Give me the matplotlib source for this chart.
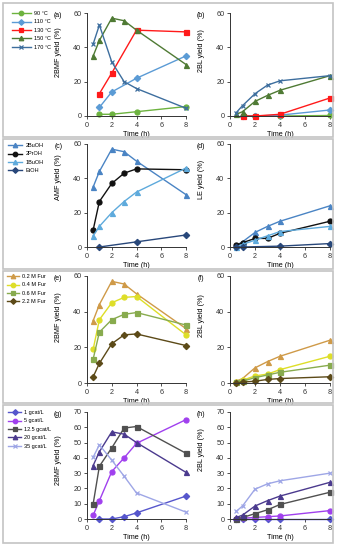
import matplotlib.pyplot as plt
from matplotlib.patches import Rectangle

# ---- data ----
t_a = {'90 °C': [1, 2, 4, 8], '110 °C': [1, 2, 4, 8], '130 °C': [1, 2, 4, 8],
       '150 °C': [0.5, 1, 2, 3, 4, 8], '170 °C': [0.5, 1, 2, 3, 4, 8]}
bmf_temp = {'90 °C': [1, 1, 2.5, 5.5], '110 °C': [5, 14, 22, 35], '130 °C': [13, 25, 50, 49],
            '150 °C': [35, 44, 57, 55.5, 50, 30], '170 °C': [42, 53, 31.5, 20, 16, 4.5]}
bl_temp = {'90 °C': [0, 0, 0, 0.3], '110 °C': [0, 0, 0.5, 3.5], '130 °C': [0, 0, 1, 10.5],
           '150 °C': [1, 2.5, 8.5, 12, 15, 23.5], '170 °C': [2, 6, 13, 18, 20.5, 23.5]}

t_c = {'2BuOH': [0.5, 1, 2, 3, 4, 8], '2PrOH': [0.5, 1, 2, 3, 4, 8],
       '1BuOH': [0.5, 1, 2, 3, 4, 8], 'EtOH': [1, 4, 8]}
amf_alc = {'2BuOH': [35, 44, 57, 55.5, 50, 30.5], '2PrOH': [10, 26.5, 37, 43, 45.5, 45],
           '1BuOH': [6.5, 12, 20, 26.5, 32, 46], 'EtOH': [0, 3, 7]}
t_d = {'2BuOH': [0.5, 1, 2, 3, 4, 8], '2PrOH': [0.5, 1, 2, 3, 4, 8],
       '1BuOH': [0.5, 1, 2, 3, 4, 8], 'EtOH': [0.5, 1, 4, 8]}
le_alc = {'2BuOH': [1, 3, 8.5, 12, 15, 24], '2PrOH': [1, 2.5, 5, 5, 8, 15],
          '1BuOH': [0, 1.5, 4, 6.5, 9, 12], 'EtOH': [0, 0, 0.5, 2]}

t_e = [0.5, 1, 2, 3, 4, 8]
bmf_fur = {'0.2 M Fur': [35, 44, 57, 55.5, 50, 30.5], '0.4 M Fur': [19, 35.5, 45, 48, 48.5, 27],
           '0.6 M Fur': [13.5, 28.5, 35.5, 38.5, 39.5, 32.5], '2.2 M Fur': [3.5, 11, 22, 27, 27.5, 21]}
bl_fur = {'0.2 M Fur': [1, 2.5, 8.5, 12, 15, 24], '0.4 M Fur': [0.5, 1.5, 4, 5, 7.5, 15],
          '0.6 M Fur': [0.5, 1, 3, 4.5, 6, 10], '2.2 M Fur': [0, 0.5, 1, 2, 2.5, 3.5]}

t_g = {'1 gcat/L': [1, 2, 3, 4, 8], '5 gcat/L': [0.5, 1, 2, 3, 4, 8],
       '12.5 gcat/L': [0.5, 1, 2, 3, 4, 8], '20 gcat/L': [0.5, 1, 2, 3, 4, 8],
       '35 gcat/L': [0.5, 1, 2, 3, 4, 8]}
bmf_cat = {'1 gcat/L': [0, 0, 1.5, 4, 15], '5 gcat/L': [2.5, 12, 31, 40, 49.5, 65],
           '12.5 gcat/L': [10, 34.5, 46.5, 59.5, 60.5, 43], '20 gcat/L': [35, 44, 57, 55.5, 50, 30.5],
           '35 gcat/L': [40.5, 48.5, 38.5, 28, 17, 4.5]}
t_h = [0.5, 1, 2, 3, 4, 8]
bl_cat = {'1 gcat/L': [0, 0, 0, 0, 0, 0], '5 gcat/L': [0, 0.5, 1, 1.5, 2, 5.5],
          '12.5 gcat/L': [0, 1, 3.5, 6, 9.5, 17.5], '20 gcat/L': [1, 2.5, 8.5, 12, 15, 24],
          '35 gcat/L': [5, 8.5, 19.5, 23, 25, 30]}

sty_temp = {'90 °C': ('#6db33f', 'o'), '110 °C': ('#5b9bd5', 'D'), '130 °C': ('#ff1a1a', 's'),
            '150 °C': ('#4f7a34', '^'), '170 °C': ('#3d6e9e', 'x')}
sty_alc = {'2BuOH': ('#4a84c4', '^'), '2PrOH': ('#111111', 'o'),
           '1BuOH': ('#5eaadc', '^'), 'EtOH': ('#28477a', 'D')}
sty_fur = {'0.2 M Fur': ('#cf9a48', '^'), '0.4 M Fur': ('#dede28', 'o'),
           '0.6 M Fur': ('#88ab4e', 's'), '2.2 M Fur': ('#5c4a18', 'D')}
sty_cat = {'1 gcat/L': ('#5656cc', 'D'), '5 gcat/L': ('#a040ee', 'o'),
           '12.5 gcat/L': ('#505050', 's'), '20 gcat/L': ('#4b3a8e', '^'),
           '35 gcat/L': ('#9ea6e6', 'x')}

W, H = 340, 550
fig = plt.figure(figsize=(3.4, 5.5), dpi=100)
plt.rcParams['font.family'] = ['Liberation Sans', 'DejaVu Sans']


def px_axes(l, r, top, bot):
    return fig.add_axes([l / W, 1 - bot / H, (r - l) / W, (bot - top) / H])


def draw(ax, tt, data, sty, ymax, ystep, ylabel, tag, laby):
    for k in data:
        x = tt[k] if isinstance(tt, dict) else tt
        c, mk = sty[k]
        ms = 3.2 if mk in ('x', 'D') else 3.6
        ax.plot(x, data[k], color=c, marker=mk, ms=ms, lw=1.0, mew=0.9, label=k, clip_on=False)
    ax.set_xlim(0, 8)
    ax.set_ylim(0, ymax)
    ax.set_xticks(range(0, 9, 2))
    ax.set_yticks(range(0, ymax + 1, ystep))
    for s in ('top', 'right'):
        ax.spines[s].set_visible(False)
    for s in ('left', 'bottom'):
        ax.spines[s].set_color('#333333')
        ax.spines[s].set_linewidth(0.7)
    ax.tick_params(labelsize=5.2, length=2, width=0.6, pad=2, colors='#333333')
    ax.set_xlabel('Time (h)', fontsize=5.2, labelpad=1.5)
    ax.set_ylabel(ylabel, fontsize=5.2)
    ax.yaxis.set_label_coords(-0.25, laby)
    ax.text(-0.29, 0.98, tag, transform=ax.transAxes, fontsize=5, ha='center', va='center')


def legend(ax, left_px, top_px, hl):
    ax.legend(loc='upper left', bbox_to_anchor=(left_px / W, 1 - top_px / H),
              bbox_transform=fig.transFigure, fontsize=4.0, frameon=False,
              handlelength=hl, handletextpad=0.5, labelspacing=0.62, borderpad=0,
              borderaxespad=0, markerscale=0.9)


rows = [(13, 116), (144, 247), (276, 383), (412, 519)]
for top, bot in [(3, 137), (139, 269), (271, 403), (405, 543)]:
    fig.patches.append(Rectangle((3 / W, 1 - bot / H), 330 / W, (bot - top) / H,
                                 transform=fig.transFigure, fill=False,
                                 edgecolor='#c4c4c4', lw=1.2))

ax = px_axes(87, 186, *rows[0])
draw(ax, t_a, bmf_temp, sty_temp, 60, 20, '2BMF yield (%)', '(a)', 0.62)
legend(ax, 12, 11, 3.4)
ax = px_axes(230, 330, *rows[0])
draw(ax, t_a, bl_temp, sty_temp, 60, 20, '2BL yield (%)', '(b)', 0.64)

ax = px_axes(87, 186, *rows[1])
draw(ax, t_c, amf_alc, sty_alc, 60, 20, 'AMF yield (%)', '(c)', 0.68)
legend(ax, 8, 143, 2.6)
ax = px_axes(230, 330, *rows[1])
draw(ax, t_d, le_alc, sty_alc, 60, 20, 'LE yield (%)', '(d)', 0.66)

ax = px_axes(87, 186, *rows[2])
draw(ax, t_e, bmf_fur, sty_fur, 60, 20, '2BMF yield (%)', '(e)', 0.62)
legend(ax, 7, 274, 2.2)
ax = px_axes(230, 330, *rows[2])
draw(ax, t_e, bl_fur, sty_fur, 60, 20, '2BL yield (%)', '(f)', 0.63)

ax = px_axes(87, 186, *rows[3])
draw(ax, t_g, bmf_cat, sty_cat, 70, 10, '2BMF yield (%)', '(g)', 0.55)
legend(ax, 8, 410, 2.4)
ax = px_axes(230, 330, *rows[3])
draw(ax, t_h, bl_cat, sty_cat, 70, 10, '2BL yield (%)', '(h)', 0.65)

fig.savefig('out.png', dpi=100)
